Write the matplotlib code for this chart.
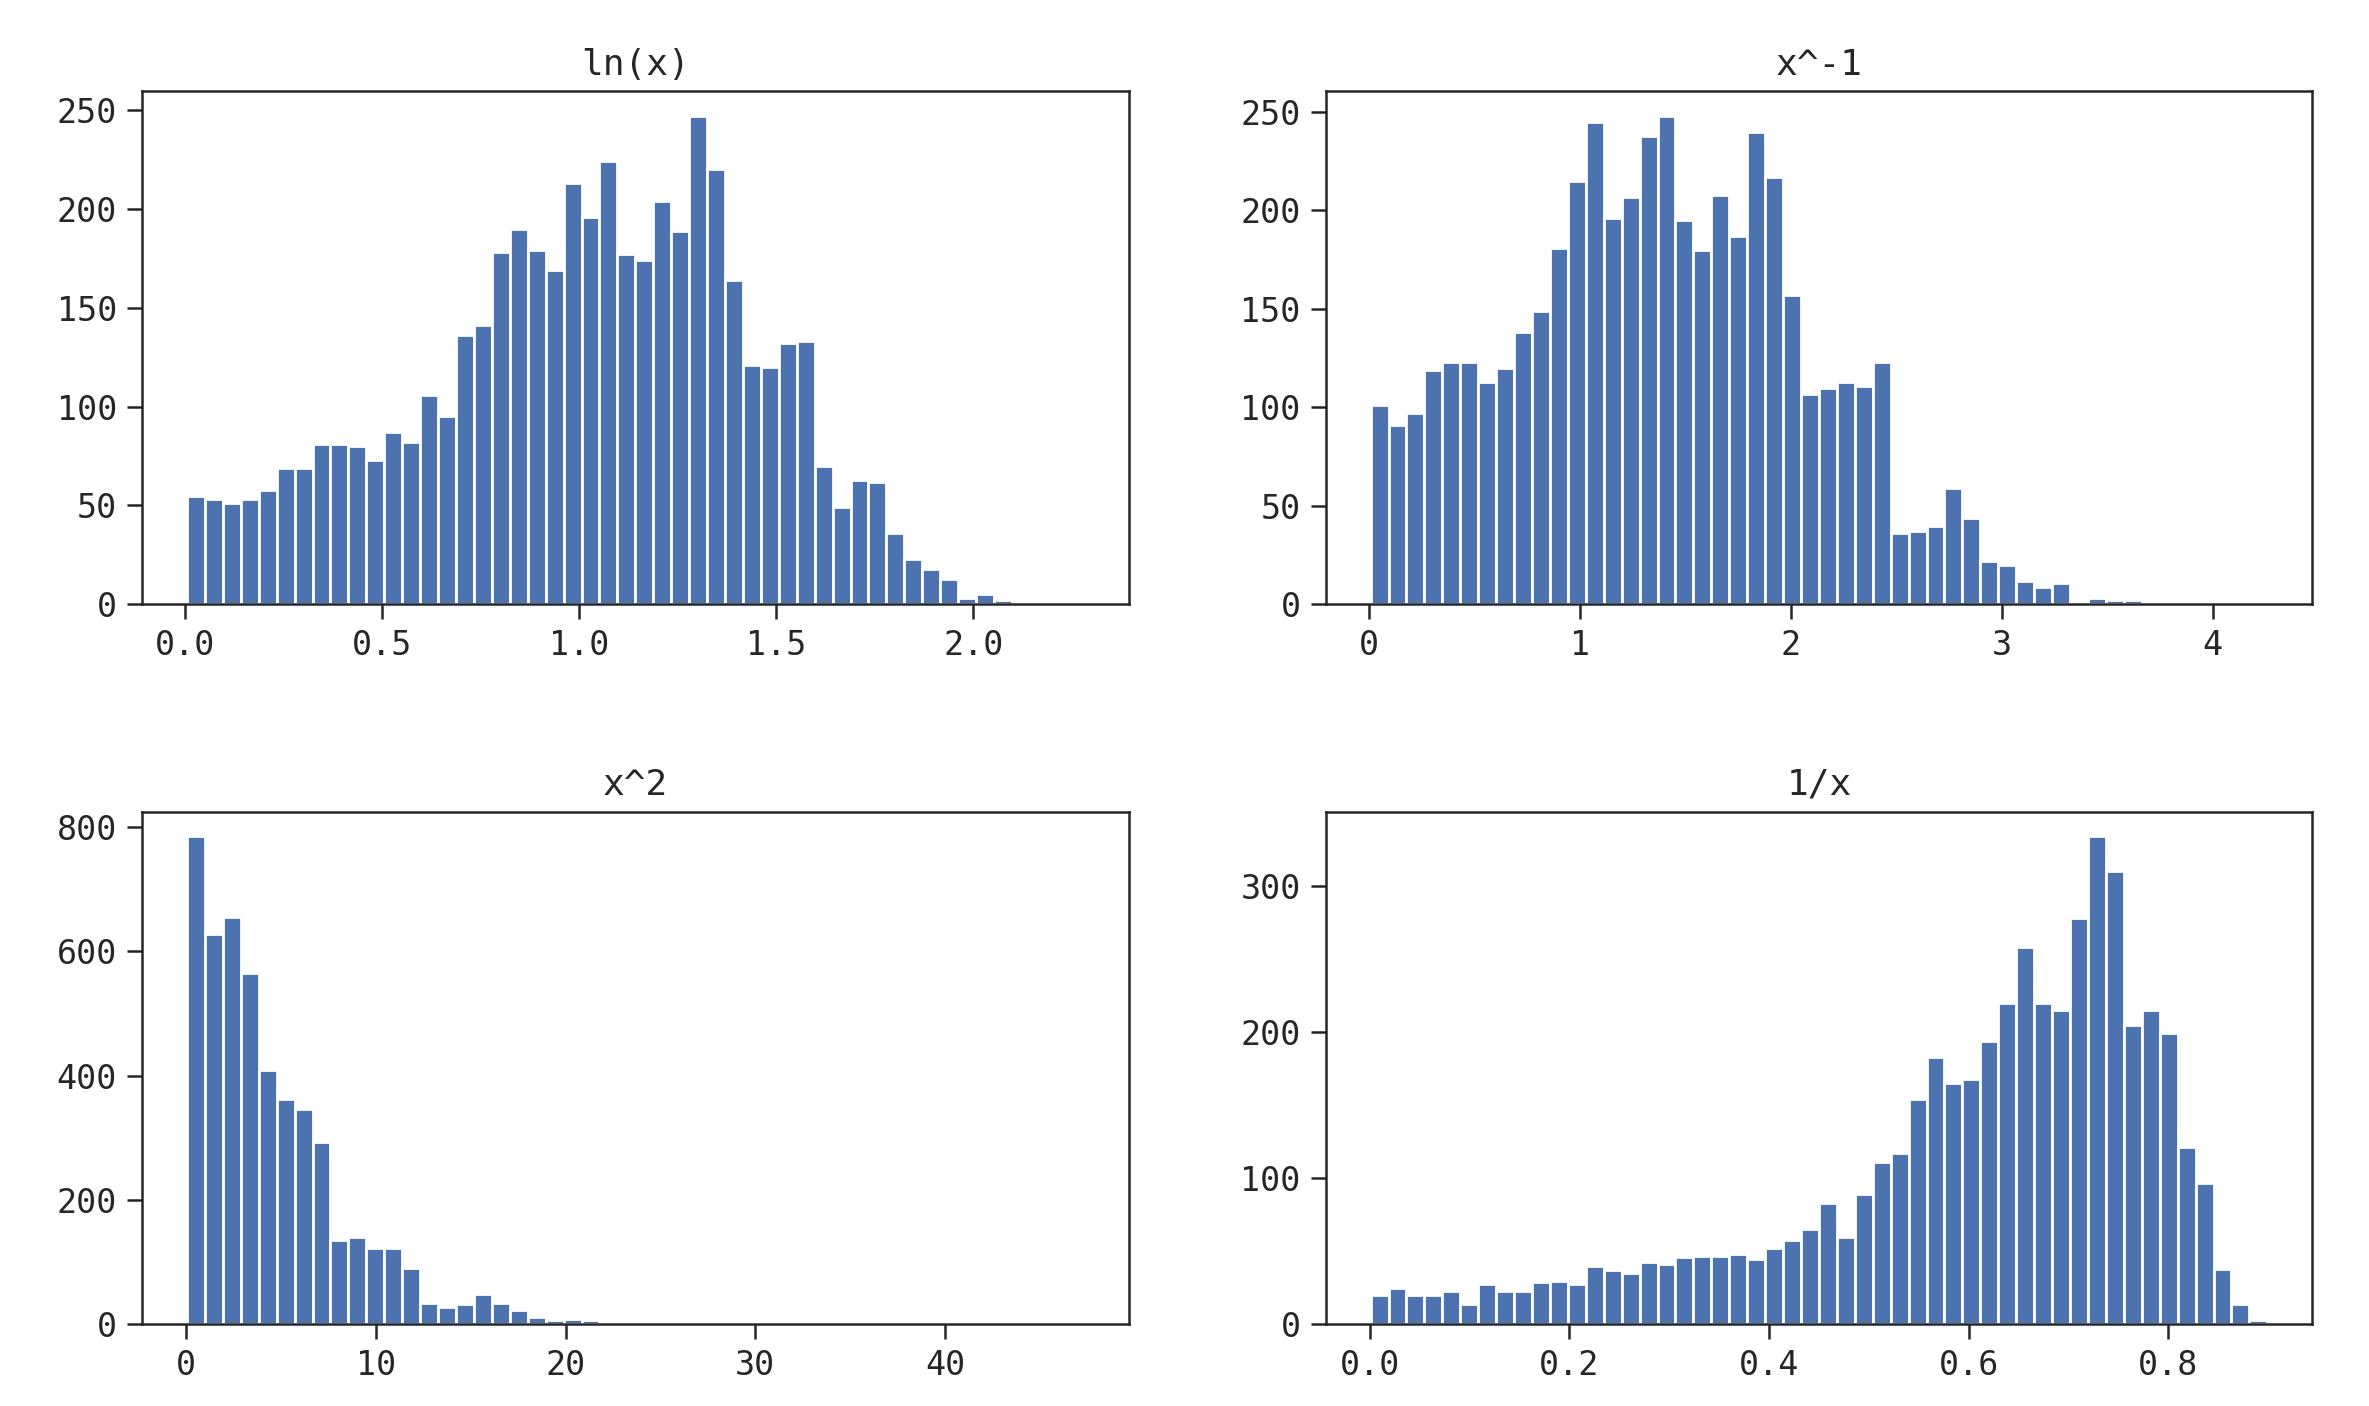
import numpy as np
import matplotlib
matplotlib.use('Agg')
import matplotlib.pyplot as plt

# bin counts (50 bins each)
titles = ['ln(x)', 'x^-1', 'x^2', '1/x']

ln_counts = [55, 53, 51, 53, 58, 69, 69, 81, 81, 80,
             73, 87, 82, 106, 95, 136, 141, 178, 190, 179,
             169, 213, 196, 224, 177, 174, 204, 189, 247, 220,
             164, 121, 120, 132, 133, 70, 49, 63, 62, 36,
             23, 18, 13, 3, 5, 2, 0, 1, 0, 0]
ln_range = (0.004, 2.28)

inv_counts = [101, 91, 97, 119, 123, 123, 113, 120, 138, 149,
              181, 215, 245, 196, 207, 238, 248, 195, 180, 208,
              187, 240, 217, 157, 107, 110, 113, 111, 123, 36,
              37, 40, 59, 44, 22, 20, 12, 9, 11, 1,
              3, 2, 2, 0, 0, 0, 0, 0, 0, 0]
inv_range = (0.006, 4.26)

sq_counts = [785, 627, 654, 564, 409, 363, 347, 293, 135, 140,
             123, 123, 90, 35, 28, 33, 49, 35, 23, 12,
             7, 9, 7, 2, 4, 1, 0, 0, 0, 0,
             0, 0, 0, 0, 0, 0, 0, 0, 0, 0,
             0, 0, 0, 0, 0, 0, 0, 0, 0, 0]
sq_range = (0.05, 47.3)

recip_counts = [20, 25, 20, 20, 23, 14, 28, 23, 23, 29,
                30, 28, 40, 37, 35, 43, 41, 46, 47, 47,
                48, 45, 52, 58, 65, 83, 60, 89, 111, 117,
                154, 183, 165, 168, 194, 220, 258, 220, 215, 278,
                334, 310, 205, 215, 199, 121, 97, 38, 14, 3]
recip_range = (0.001, 0.899)

all_counts = [ln_counts, inv_counts, sq_counts, recip_counts]
all_ranges = [ln_range, inv_range, sq_range, recip_range]

plt.rcParams['font.family'] = ['DejaVu Sans Mono']
plt.rcParams['axes.edgecolor'] = '#262626'
plt.rcParams['xtick.color'] = '#262626'
plt.rcParams['ytick.color'] = '#262626'
plt.rcParams['text.color'] = '#262626'

fig, axes = plt.subplots(2, 2, figsize=(11.845, 7.03), dpi=200)
fig.subplots_adjust(left=0.060, right=0.976, top=0.935, bottom=0.058,
                    wspace=0.2, hspace=0.404)

for ax, title, counts, (lo, hi) in zip(axes.flat, titles, all_counts, all_ranges):
    edges = np.linspace(lo, hi, len(counts) + 1)
    ax.hist(edges[:-1], bins=edges, weights=counts, color='#4C72B0',
            edgecolor='white', linewidth=1.0)
    ax.set_title(title, fontsize=13)
    ax.tick_params(labelsize=12, length=5.5, width=0.9, direction='out')
    for sp in ax.spines.values():
        sp.set_linewidth(0.9)

fig.savefig('out.png', dpi=200)
